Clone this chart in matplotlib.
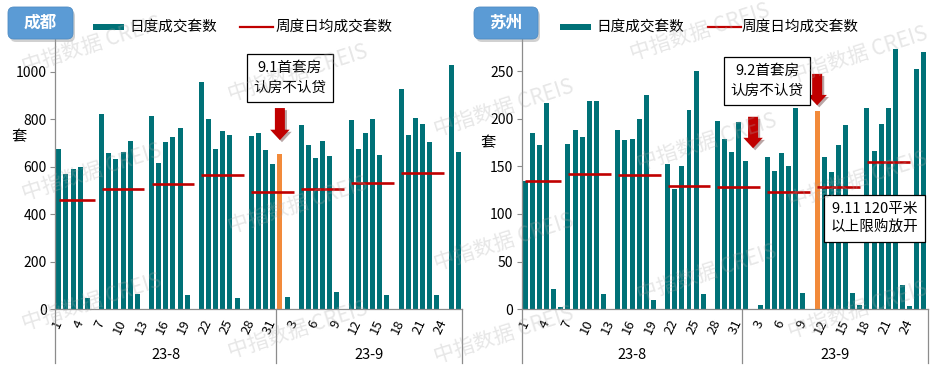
import matplotlib
matplotlib.use('Agg')
import matplotlib.pyplot as plt
import matplotlib.transforms as mtransforms
import matplotlib.patheffects as pe
from matplotlib.patches import FancyBboxPatch, Rectangle
from matplotlib.lines import Line2D
import numpy as np
import pandas as pd

plt.rcParams['font.family'] = ['Noto Sans CJK SC', 'DejaVu Sans']

# ---------------- data ----------------
dates = pd.date_range('2023-08-01', '2023-09-26', freq='D')
day_labels = [str(d.day) for d in dates]
month_labels = ['23-8', '23-9']

cities = ['成都', '苏州']

chengdu_daily = [675, 571, 592, 597, 48, 0,
                 820, 656, 632, 661, 707, 66, 0,
                 812, 616, 705, 726, 764, 59, 0,
                 955, 802, 673, 752, 732, 46, 0,
                 728, 742, 669, 610, 655, 50, 0,
                 777, 690, 635, 708, 647, 72, 0,
                 795, 676, 743, 799, 648, 59, 0,
                 928, 733, 806, 780, 703, 62, 0,
                 1027, 661]
chengdu_weekly = [460, 506, 527, 567, 495, 506, 532, 574]

suzhou_daily = [135, 185, 172, 216, 21, 2,
                173, 188, 181, 219, 219, 16, 0,
                188, 178, 179, 200, 225, 10, 0,
                152, 126, 150, 209, 250, 16, 0,
                198, 179, 165, 196, 156, 0, 4,
                160, 145, 164, 150, 211, 17, 0,
                208, 160, 144, 172, 193, 17, 4,
                211, 166, 194, 211, 273, 25, 3,
                252, 270]
suzhou_weekly = [135, 142.3, 140.6, 129.4, 128.7, 123.4, 128.7, 154.9]

highlight_dates = ['2023-09-01', '2023-09-11']
policy_notes = ['9.1首套房\n认房不认贷', '9.2首套房\n认房不认贷', '9.11 120平米\n以上限购放开']
legend_labels = ['日度成交套数', '周度日均成交套数']

# ---------------- style ----------------
TEAL = '#007177'
ORANGE = '#F28A3A'
RED = '#C00000'
GRAY = '#8C8C8C'
W, H = 935, 366

fig = plt.figure(figsize=(W / 100, H / 100), dpi=100)


def fx(px):
    return px / W


def fy(py):
    return 1 - py / H


# week groups (Mon-Sun)
week_id = [(d - pd.Timestamp('2023-07-31')).days // 7 for d in dates]
week_groups = []
for w in sorted(set(week_id)):
    idx = [i for i, k in enumerate(week_id) if k == w]
    week_groups.append((idx[0], idx[-1]))


def draw_panel(rect, daily, weekly, hl_date, ymax, yticks, ylabel_pos):
    ax = fig.add_axes(rect)
    n = len(daily)
    x = np.arange(n)
    hl = list(dates).index(pd.Timestamp(hl_date))
    colors = [TEAL] * n
    colors[hl] = ORANGE
    ax.bar(x, daily, width=0.7, color=colors, zorder=2, linewidth=0)
    for (s, e), v in zip(week_groups, weekly):
        ax.plot([s, e], [v, v], color=RED, lw=1.9, zorder=3, solid_capstyle='butt')
    ax.set_xlim(-0.5, n - 0.5)
    ax.set_ylim(0, ymax)
    ax.set_yticks(yticks)
    for s in ['top', 'right']:
        ax.spines[s].set_visible(False)
    for s in ['left', 'bottom']:
        ax.spines[s].set_color(GRAY)
        ax.spines[s].set_linewidth(0.9)
    ax.tick_params(axis='y', length=3.6, width=0.8, color=GRAY, labelsize=10, pad=2.5)
    ax.set_xticks(x[::3])
    ax.set_xticklabels(day_labels[::3], rotation=65, ha='right', va='center',
                       rotation_mode='anchor', fontsize=9.5)
    ax.tick_params(axis='x', length=0, pad=8)
    ax.set_ylabel('套', rotation=0, fontsize=11, va='center', ha='center')
    ax.yaxis.set_label_coords(*ylabel_pos)
    trans = mtransforms.blended_transform_factory(ax.transData, ax.transAxes)
    # month groups
    counts = [sum(1 for d in dates if d.month == 8), sum(1 for d in dates if d.month == 9)]
    bounds = [-0.5, counts[0] - 0.5, n - 0.5]
    for b in bounds:
        ax.plot([b, b], [0, -0.2], transform=trans, color=GRAY, lw=0.9, clip_on=False)
    for i, lab in enumerate(month_labels):
        c = (bounds[i] + bounds[i + 1]) / 2
        ax.text(c, -0.168, lab, transform=trans, ha='center', va='center', fontsize=10.5)
    return ax


ax1 = draw_panel([fx(55.3), fy(309.3), fx(406.4), (309.3 - 39) / H], chengdu_daily,
                 chengdu_weekly, highlight_dates[0], 1137.6, [0, 200, 400, 600, 800, 1000],
                 (-0.089, 0.637))
ax2 = draw_panel([fx(521.7), fy(309.3), fx(405.8), (309.3 - 39) / H], suzhou_daily,
                 suzhou_weekly, highlight_dates[1], 283.6, [0, 50, 100, 150, 200, 250],
                 (-0.083, 0.615))


# ---------------- title boxes ----------------
def title_box(x0, y0, w, h, text):
    shadow = FancyBboxPatch((x0 + 2, H - y0 - h - 3), w, h,
                            boxstyle='round,pad=0,rounding_size=6',
                            fc='#9A9A9A', ec='none', alpha=0.45)
    shadow.set_transform(mtransforms.IdentityTransform())
    fig.add_artist(shadow)
    box = FancyBboxPatch((x0, H - y0 - h), w, h, boxstyle='round,pad=0,rounding_size=6',
                         fc='#5B9BD5', ec='#4F8CC4', lw=0.6)
    box.set_transform(mtransforms.IdentityTransform())
    fig.add_artist(box)
    fig.text(fx(x0 + w / 2), fy(y0 + h / 2), text, color='white', fontsize=12,
             fontweight='bold', ha='center', va='center')


title_box(8, 7, 65, 32, cities[0])
title_box(474, 7, 64, 32, cities[1])


# ---------------- legends ----------------
def legend(xbar, xtxt1, xline, xtxt2, yc=27):
    r = Rectangle((xbar, H - yc - 3), 31, 6, fc=TEAL, ec='none')
    r.set_transform(mtransforms.IdentityTransform())
    fig.add_artist(r)
    fig.text(fx(xtxt1), fy(yc), legend_labels[0], fontsize=10.5, ha='left', va='center')
    fig.add_artist(Line2D([fx(xline), fx(xline + 33)], [fy(yc), fy(yc)], color=RED, lw=1.6,
                          transform=fig.transFigure))
    fig.text(fx(xtxt2), fy(yc), legend_labels[1], fontsize=10.5, ha='left', va='center')


legend(93, 129, 240, 276)
legend(560, 596, 708, 742)

# ---------------- annotations ----------------
box_kw = dict(boxstyle='square,pad=0.45', fc='white', ec='black', lw=0.9)
fig.text(fx(290), fy(78), policy_notes[0], ha='center', va='center', fontsize=10.5,
         linespacing=1.6, bbox=box_kw, zorder=10)
fig.text(fx(767), fy(81), policy_notes[1], ha='center', va='center', fontsize=10.5,
         linespacing=1.6, bbox=box_kw, zorder=10)
fig.text(fx(874.5), fy(218.5), policy_notes[2], ha='center', va='center', fontsize=10.5,
         linespacing=1.45, bbox=box_kw, zorder=10)

arrow_style = 'simple,head_length=7.5,head_width=14,tail_width=7.2'
shadow_fx = [pe.SimplePatchShadow(offset=(1.5, -1.5), alpha=0.35), pe.Normal()]


def arrow(ax, xi, y_tip, y_tail):
    a = ax.annotate('', xy=(xi, y_tip), xytext=(xi, y_tail),
                    arrowprops=dict(arrowstyle=arrow_style, mutation_scale=1, fc=RED,
                                    ec='none', shrinkA=0, shrinkB=0), zorder=6,
                    annotation_clip=False)
    a.arrow_patch.set_path_effects(shadow_fx)


idx = {pd.Timestamp(d): i for i, d in enumerate(dates)}
arrow(ax1, idx[pd.Timestamp('2023-09-01')], 712, 847)
arrow(ax2, idx[pd.Timestamp('2023-09-02')], 169, 202)
arrow(ax2, idx[pd.Timestamp('2023-09-11')], 214, 247)

# ---------------- watermarks ----------------
wm_pos = [(92, 45), (298, 73), (92, 172), (298, 205), (92, 302), (298, 330),
          (504, 108), (504, 242), (504, 335), (700, 32), (707, 142), (707, 273),
          (858, 55), (858, 180), (858, 310)]
for (px, py) in wm_pos:
    fig.text(fx(px), fy(py), '中指数据 CREIS', rotation=17.7, ha='center', va='center',
             fontsize=15, color='#A8A8A8', alpha=0.28, zorder=20)

fig.savefig('out.png', dpi=100)
